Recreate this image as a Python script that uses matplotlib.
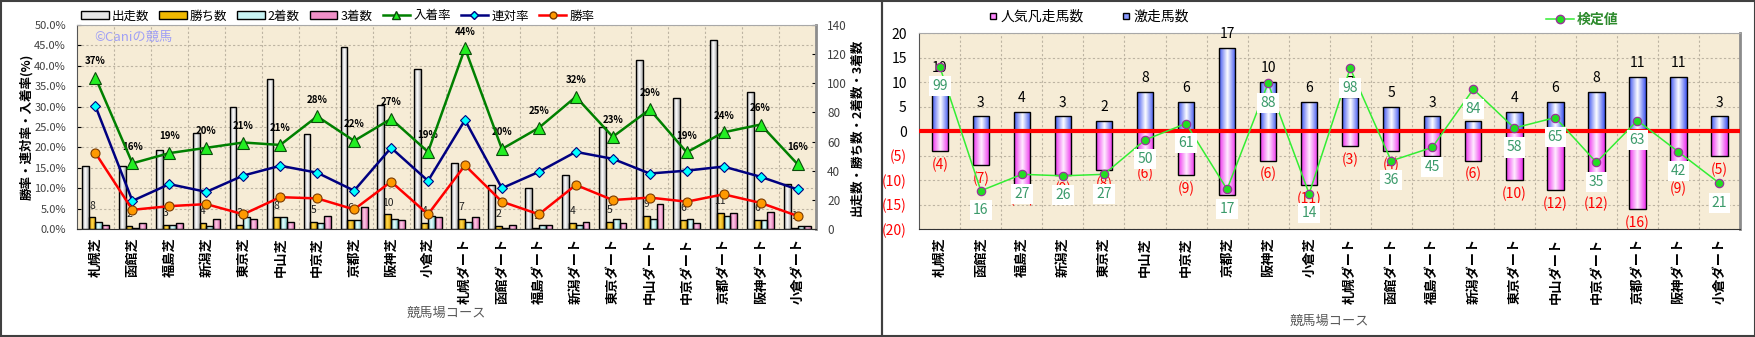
import numpy as np
import matplotlib
matplotlib.use('Agg')
import matplotlib.pyplot as plt
from matplotlib.colors import LinearSegmentedColormap
from matplotlib.lines import Line2D
from matplotlib.patches import Patch, Rectangle
from matplotlib.ticker import FuncFormatter

plt.rcParams['font.family'] = ['Noto Sans CJK JP', 'DejaVu Sans']

# === データ ===
courses = ['札幌芝', '函館芝', '福島芝', '新潟芝', '東京芝', '中山芝', '中京芝', '京都芝', '阪神芝', '小倉芝',
           '札幌ダート', '函館ダート', '福島ダート', '新潟ダート', '東京ダート', '中山ダート', '中京ダート',
           '京都ダート', '阪神ダート', '小倉ダート']

starts = [43, 43, 54, 66, 84, 103, 65, 125, 85, 110, 45, 30, 28, 37, 70, 116, 90, 130, 94, 31]
wins = [8, 2, 3, 4, 3, 8, 5, 6, 10, 4, 7, 2, 1, 4, 5, 9, 6, 11, 6, 1]
seconds = [5, 1, 3, 2, 8, 8, 4, 6, 7, 9, 5, 1, 3, 3, 7, 7, 7, 9, 6, 2]
thirds = [3, 4, 4, 7, 7, 5, 9, 15, 6, 8, 8, 3, 3, 5, 4, 17, 4, 11, 12, 2]

win_rate = [18.6, 4.7, 5.6, 6.1, 3.6, 7.8, 7.5, 4.8, 11.6, 3.6, 15.6, 6.7, 3.6, 10.8, 7.1, 7.7, 6.7, 8.5, 6.4, 3.2]
ren_rate = [30.1, 6.9, 11.0, 9.1, 13.1, 15.5, 13.8, 9.4, 19.9, 11.8, 26.7, 10.0, 14.0, 18.9, 17.2, 13.6, 14.3, 15.3, 12.8, 9.7]
place_rate = [37.1, 16.1, 18.6, 19.9, 21.2, 20.6, 27.6, 21.6, 27.0, 18.9, 44.3, 19.6, 24.8, 32.4, 22.6, 29.3, 18.8, 23.7, 25.6, 15.9]

gekiso = [10, 3, 4, 3, 2, 8, 6, 17, 10, 6, 7, 5, 3, 2, 4, 6, 8, 11, 11, 3]
bonso = [4, 7, 11, 9, 8, 6, 9, 13, 6, 11, 3, 4, 5, 6, 10, 12, 12, 16, 9, 5]
kentei = [99, 16, 27, 26, 27, 50, 61, 17, 88, 14, 98, 36, 45, 84, 58, 65, 35, 63, 42, 21]

W, H = 1756, 337
BG = '#f6ecd6'
GRID = dict(color='#bdb4a2', linestyle=(0, (2, 2)), linewidth=0.8)


def fx(px):
    return px / W


def fy(py):
    return 1 - py / H


# グラデーション付きの棒
def grad_bars(ax, x, h, w, c_side, c_mid, z=2):
    bars = ax.bar(x, h, w, facecolor='none', edgecolor='black', linewidth=1.0, zorder=z + 0.1)
    cmap = LinearSegmentedColormap.from_list('g', [c_side, c_mid, c_side])
    grad = np.linspace(0, 1, 64).reshape(1, -1)
    for b in bars:
        x0, y0, bw, bh = b.get_x(), b.get_y(), b.get_width(), b.get_height()
        if bh == 0:
            continue
        im = ax.imshow(grad, cmap=cmap, extent=(x0, x0 + bw, min(y0, y0 + bh), max(y0, y0 + bh)),
                       aspect='auto', zorder=z, interpolation='bilinear')
        im.set_clip_path(b)
    return bars


fig = plt.figure(figsize=(W / 100, H / 100), dpi=100)
x = np.arange(len(courses))

# ================= 左: 成績グラフ =================
axL = fig.add_axes([fx(77), fy(229), fx(816 - 77), (229 - 25) / H])
axL.set_facecolor(BG)
axL.set_xlim(-0.5, len(courses) - 0.5)
axL.set_ylim(0, 50)
axL.set_yticks(np.arange(0, 51, 5))
axL.yaxis.set_major_formatter(FuncFormatter(lambda v, p: f'{v:.1f}%'))
axL.set_xticks(x)
axL.set_xticklabels(courses, rotation=90, fontsize=9.5, fontweight='bold')
axL.set_xticks(x[:-1] + 0.5, minor=True)
axL.grid(which='minor', axis='x', **GRID)
axL.grid(which='major', axis='y', **GRID)
axL.tick_params(axis='x', which='both', length=0, pad=6)
axL.tick_params(axis='y', direction='in', length=3, labelsize=8, labelcolor='#404040', pad=8)
for s in axL.spines.values():
    s.set_visible(False)
axL.set_ylabel('勝率・連対率・入着率(%)', fontsize=9, fontweight='bold')
axL.yaxis.set_label_coords((33 - 77) / 739, 0.5)
axL.set_xlabel('競馬場コース', fontsize=9.5, color='#595959')
axL.xaxis.set_label_coords(0.5, (229 - 307) / 204)

axC = axL.twinx()
axC.set_ylim(0, 140)
axC.set_yticks(np.arange(0, 141, 20))
axC.tick_params(axis='y', direction='in', length=3, labelsize=8.5, labelcolor='#404040', pad=8)
bw = 0.184
grad_bars(axC, x - 1.5 * bw, starts, bw, '#a8a8a8', '#ffffff')
grad_bars(axC, x - 0.5 * bw, wins, bw, '#d99a00', '#ffd94a')
grad_bars(axC, x + 0.5 * bw, seconds, bw, '#80cccc', '#e8ffff')
grad_bars(axC, x + 1.5 * bw, thirds, bw, '#dd70b0', '#ffc8e6')
for i, v in enumerate(wins):
    axC.annotate(str(v), (x[i] - 0.5 * bw, v), xytext=(0, 8.5), textcoords='offset points',
                 ha='center', va='center', fontsize=7.5, color='#222222', zorder=3)
axC.set_xlim(-0.5, len(courses) - 0.5)
axC.set_ylabel('出走数・勝ち数・2着数・3着数', fontsize=9, fontweight='bold')
axC.yaxis.set_label_coords(1 + (851 - 816) / 739, 0.5)
axC.spines['left'].set_color('#555555')
axC.spines['bottom'].set_color('#333333')
axC.spines['right'].set_color('#8c8c8c')
axC.spines['right'].set_linewidth(2)
axC.spines['top'].set_color('#a8a8a8')

axP = axL.twinx()
axP.set_ylim(0, 50)
axP.axis('off')
axP.plot(x, place_rate, color='#008000', lw=1.8, marker='^', ms=8, mfc='#22ee22', mec='#0b4a0b', mew=0.8,
         zorder=5, label='入着率')
axP.plot(x, ren_rate, color='#000080', lw=1.8, marker='D', ms=5, mfc='#00ffff', mec='#000080', mew=0.8,
         zorder=5, label='連対率')
axP.plot(x, win_rate, color='#ff0000', lw=1.8, marker='o', ms=6.5, mfc='#ff9900', mec='#7a3a00', mew=0.8,
         zorder=5, label='勝率')
for i, v in enumerate(place_rate):
    axP.annotate(f'{v:.0f}%', (x[i], v), xytext=(0, 12), textcoords='offset points',
                 ha='center', va='center', fontsize=7, fontweight='bold', color='black')
axP.text(0.024, 0.94, '©Caniの競馬', transform=axP.transAxes, color='#a0a0f5', fontsize=9.5, va='center')

handles = [Patch(facecolor='#e6e6e6', edgecolor='black', label='出走数'),
           Patch(facecolor='#f0b800', edgecolor='black', label='勝ち数'),
           Patch(facecolor='#c8f4f4', edgecolor='black', label='2着数'),
           Patch(facecolor='#f090c8', edgecolor='black', label='3着数'),
           Line2D([], [], color='#008000', lw=1.8, marker='^', ms=6, mfc='#22ee22', mec='#0b4a0b', label='入着率'),
           Line2D([], [], color='#000080', lw=1.8, marker='D', ms=4, mfc='#00ffff', mec='#000080', label='連対率'),
           Line2D([], [], color='#ff0000', lw=1.8, marker='o', ms=5, mfc='#ff9900', mec='#7a3a00', label='勝率')]
fig.legend(handles=handles, loc='center left', bbox_to_anchor=(fx(81), fy(16)), ncol=7, frameon=False,
           fontsize=9, handlelength=2.2, handleheight=0.55, handletextpad=0.25, columnspacing=0.8,
           borderpad=0, borderaxespad=0)

# ================= 右: 激走・凡走グラフ =================
axR = fig.add_axes([fx(919.3), fy(229), fx(1740 - 919.3), (229 - 33.3) / H])
axR.set_facecolor(BG)
axR.set_xlim(-0.5, len(courses) - 0.5)
axR.set_ylim(-20, 20)
axR.set_yticks(np.arange(-20, 21, 5))
axR.yaxis.set_major_formatter(FuncFormatter(lambda v, p: f'{int(v)}' if v >= 0 else f'({int(-v)})'))
axR.tick_params(axis='y', length=0, pad=9, labelsize=10)
for t, v in zip(axR.get_yticklabels(), np.arange(-20, 21, 5)):
    if v < 0:
        t.set_color('red')
axR.set_xticks(x)
axR.set_xticklabels(courses, rotation=90, fontsize=9.5, fontweight='bold')
axR.set_xticks(x[:-1] + 0.5, minor=True)
axR.grid(which='minor', axis='x', **GRID)
axR.grid(which='major', axis='y', **GRID)
axR.set_axisbelow(True)
axR.tick_params(axis='x', which='both', length=0, pad=6)
axR.spines['left'].set_color('#555555')
axR.spines['bottom'].set_color('#333333')
axR.spines['right'].set_color('#8c8c8c')
axR.spines['right'].set_linewidth(2)
axR.spines['top'].set_color('#a8a8a8')
axR.set_xlabel('競馬場コース', fontsize=9.5, color='#595959')
axR.xaxis.set_label_coords(0.5, (229 - 315) / 195.7)

grad_bars(axR, x, gekiso, 0.4, '#3f55f0', '#ffffff')
grad_bars(axR, x, [-v for v in bonso], 0.4, '#ee30ee', '#ffeeff')
for i, v in enumerate(gekiso):
    axR.annotate(str(v), (x[i], v), xytext=(0, 10), textcoords='offset points',
                 ha='center', va='center', fontsize=10, color='black', zorder=3)
for i, v in enumerate(bonso):
    axR.annotate(f'({v})', (x[i], -v), xytext=(0, -10), textcoords='offset points',
                 ha='center', va='center', fontsize=10, color='red', zorder=3)
axR.axhline(0, color='#ff0000', lw=3, zorder=5)

axK = axR.twinx()
axK.set_ylim(-9.6, 121.4)
axK.axis('off')
axK.plot(x, kentei, color='#33ee33', lw=1.1, marker='o', ms=6, mfc='#22dd22', mec='#993399', mew=0.9,
         zorder=5)
for i, v in enumerate(kentei):
    axK.annotate(str(v), (x[i], v), xytext=(0, -14), textcoords='offset points', ha='center', va='center',
                 fontsize=10, color='#3a9a6a', zorder=6,
                 bbox=dict(boxstyle='square,pad=0.22', fc='white', ec='none'))

h2 = [Line2D([], [], ls='none', marker='s', ms=5, mfc='#ff88ff', mec='black', label='人気凡走馬数'),
      Line2D([], [], ls='none', marker='s', ms=5, mfc='#8899ff', mec='black', label='激走馬数')]
fig.legend(handles=h2, loc='center left', bbox_to_anchor=(fx(989), fy(17)), ncol=2, frameon=False,
           fontsize=10, handlelength=0.6, handletextpad=0.2, columnspacing=2.8, borderpad=0, borderaxespad=0)
h3 = [Line2D([], [], color='#33ee33', lw=1.1, marker='o', ms=6, mfc='#22dd22', mec='#993399', label='検定値')]
leg3 = fig.legend(handles=h3, loc='center left', bbox_to_anchor=(fx(1546), fy(20)), frameon=False,
                  fontsize=10, handlelength=2.0, handletextpad=0.2, borderpad=0, borderaxespad=0)
for t in leg3.get_texts():
    t.set_color('#2e8b2e')
    t.set_fontweight('bold')

# パネル枠
fig.add_artist(Rectangle((fx(1), fy(336)), fx(881), 335 / H, fill=False, ec='#404040', lw=1.5,
                         transform=fig.transFigure))
fig.add_artist(Rectangle((fx(882), fy(336)), fx(873), 335 / H, fill=False, ec='#404040', lw=1.5,
                         transform=fig.transFigure))

fig.savefig('out.png', dpi=100)
